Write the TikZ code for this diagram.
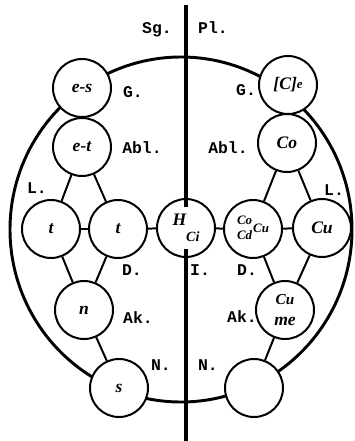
\documentclass[tikz,border=0pt]{standalone}
\usepackage{fontspec}
\setmonofont{Liberation Mono}
\newfontfamily\handfont{Liberation Serif}
\usepackage{tikz}
\usetikzlibrary{positioning}

\begin{document}
\begin{tikzpicture}[x=0.03cm, y=-0.03cm,
  circ/.style={draw, circle, line width=1.7pt, minimum size=1.74cm, inner sep=0pt,
               fill=white, font=\fontsize{15}{16}\selectfont\handfont\bfseries\itshape, align=center},
  lab/.style={font=\fontsize{14}{15}\selectfont\ttfamily\bfseries, inner sep=0pt},
  link/.style={line width=1.7pt},
]
  \useasboundingbox (0,0) rectangle (354,441);
  % outer ring
  \draw[line width=2.5pt] (181,229.5) ellipse [x radius=171, y radius=172.5];
  % Sg. side
  \node[circ] (es)   at ( 82,  88) {e-s};
  \node[circ] (et)   at ( 82, 147) {e-t};
  \node[circ] (ta)   at ( 51, 229) {t};
  \node[circ] (tb)   at (118, 229) {t};
  \node[circ] (n)    at ( 84, 310) {n};
  \node[circ] (s)    at (119, 388) {s};
  % middle
  \node[circ] (hci)  at (186, 228) {H\raisebox{-0.9em}{\fontsize{12}{12}\selectfont Ci}};
  % Pl. side
  \node[circ] (ce)   at (288,  85) {[C]\raisebox{0.1em}{\fontsize{11}{12}\selectfont e}};
  \node[circ] (co)   at (287, 143) {Co};
  \node[circ] (cocd) at (253, 229) {\fontsize{11}{12}\selectfont\begin{tabular}{@{}c@{}}Co\\[1pt]Cd\end{tabular}\hspace{1pt}Cu};
  \node[circ] (cu)   at (322, 228) {Cu};
  \node[circ] (cume) at (285, 310) {\fontsize{13}{14}\selectfont Cu\\[2pt]me};
  \node[circ] (nul)  at (254, 388) {};
  % connectors
  \draw[link] (et) -- (ta);
  \draw[link] (et) -- (tb);
  \draw[link] (ta) -- (tb);
  \draw[link] (tb) -- (hci);
  \draw[link] (hci) -- (cocd);
  \draw[link] (cocd) -- (cu);
  \draw[link] (ta) -- (n);
  \draw[link] (tb) -- (n);
  \draw[link] (n) -- (s);
  \draw[link] (co) -- (cocd);
  \draw[link] (co) -- (cu);
  \draw[link] (cocd) -- (cume);
  \draw[link] (cu) -- (cume);
  \draw[link] (cume) -- (nul);
  % dividing line
  \coordinate (vtop) at (186, 5);
  \coordinate (vbot) at (186, 441);
  \draw[line width=3.4pt] (vtop) -- ([yshift=-0.27cm]hci.north);
  \draw[line width=3.4pt] ([yshift=0.27cm]hci.south) -- (vbot);
  % case labels
  \node[lab] (sg)   at (157,  30) {Sg.};
  \node[lab] (pl)   at (213,  28) {Pl.};
  \node[lab] (gl)   at (133,  92) {G.};
  \node[lab] (abll) at (142, 148) {Abl.};
  \node[lab] (ll)   at ( 37, 188) {L.};
  \node[lab] (dl)   at (132, 270) {D.};
  \node[lab] (akl)  at (138, 318) {Ak.};
  \node[lab] (nl)   at (161, 365) {N.};
  \node[lab] (gr)   at (246,  90) {G.};
  \node[lab] (ablr) at (228, 148) {Abl.};
  \node[lab] (lr)   at (334, 190) {L.};
  \node[lab] (ir)   at (200, 270) {I.};
  \node[lab] (dr)   at (247, 270) {D.};
  \node[lab] (akr)  at (242, 317) {Ak.};
  \node[lab] (nr)   at (208, 365) {N.};
\end{tikzpicture}
\end{document}
